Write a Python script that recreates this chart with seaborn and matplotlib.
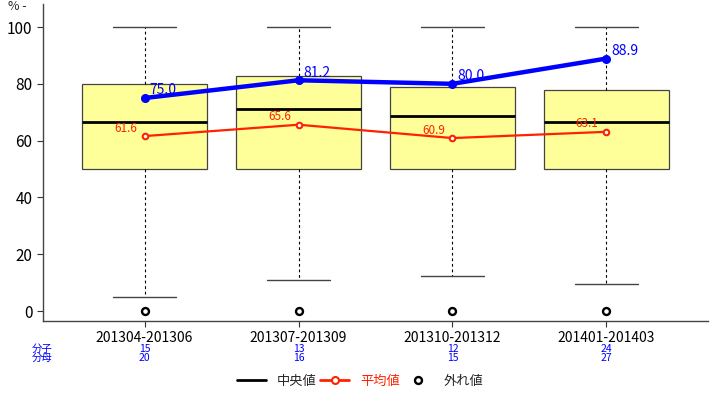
import numpy as np
import pandas as pd
import matplotlib
matplotlib.use("Agg")
import matplotlib.pyplot as plt
import seaborn as sns
from matplotlib.lines import Line2D

# ---- data ----
periods = ["201304-201306", "201307-201309", "201310-201312", "201401-201403"]
# per-period score samples (%), chosen to reproduce the drawn box summaries
scores_p1 = [0, 5.0, 50, 50, 66.7, 80.0, 80.0, 100, 100]
scores_p2 = [0, 11.1, 50, 50, 71.0, 82.6, 82.6, 100, 100]
scores_p3 = [0, 12.5, 50, 50, 68.6, 78.9, 78.9, 100, 100]
scores_p4 = [0, 9.5, 50, 50, 66.4, 77.8, 77.8, 100, 100]
mean_vals = [61.6, 65.6, 60.9, 63.1]
numerators = [15, 13, 12, 24]
denominators = [20, 16, 15, 27]
yticks = [0, 20, 40, 60, 80, 100]

ratio_vals = [n / d * 100 for n, d in zip(numerators, denominators)]

rows = []
for p, s in zip(periods, [scores_p1, scores_p2, scores_p3, scores_p4]):
    for v in s:
        rows.append({"period": p, "score": v})
df = pd.DataFrame(rows)

sns.set_style("white")
plt.rcParams['font.family'] = ['Noto Sans CJK JP', 'DejaVu Sans']

fig = plt.figure(figsize=(7.2, 3.94), dpi=100)
ax = fig.add_axes([43/720, 1 - 321/394, (708 - 43)/720, (321 - 4)/394])

sns.boxplot(data=df, x="period", y="score", order=periods, ax=ax,
            color="#FFFF99", saturation=1, width=0.81, linecolor="#444444",
            linewidth=0.9,
            medianprops=dict(color="black", linewidth=2),
            whiskerprops=dict(color="black", linewidth=0.8, linestyle=(0, (2.5, 2.5))),
            capprops=dict(color="#444444", linewidth=1),
            flierprops=dict(marker="o", markerfacecolor="white",
                            markeredgecolor="black", markersize=5,
                            markeredgewidth=1.7))

xs = np.arange(len(periods))
ax.plot(xs, mean_vals, color="#FF2200", lw=1.6, marker="o", ms=4,
        mfc="white", mec="#FF2200", mew=1.5, zorder=5)
for x, v in zip(xs, mean_vals):
    ax.text(x - 0.05, v + 0.5, f"{v:.1f}", color="#FF2200", fontsize=8.5,
            ha="right", va="bottom", zorder=6)

ax.plot(xs, ratio_vals, color="#0000FF", lw=3.2, marker="o", ms=5.5,
        zorder=7)
for x, v in zip(xs, ratio_vals):
    ax.text(x + 0.03, v + 0.2, f"{v:.1f}", color="#0000FF", fontsize=10,
            ha="left", va="bottom", zorder=8)

ax.set_xlim(-0.66, 3.66)
ax.set_ylim(-3.5, 108.1)
ax.set_yticks(yticks)
ax.set_xlabel("")
ax.set_ylabel("")
ax.tick_params(axis="both", which="both", length=4, width=0.8,
               colors="#333333", labelcolor="black", labelsize=10,
               direction="out", left=True, bottom=True)
ax.tick_params(axis="y", labelsize=11)
for side in ["top", "right"]:
    ax.spines[side].set_visible(False)
for side in ["left", "bottom"]:
    ax.spines[side].set_color("#444444")
    ax.spines[side].set_linewidth(1)

fig.text(8/720, 1 - 0.5/394, "% -", fontsize=9, va="top", ha="left")

# numerator / denominator rows
fig.text(42/720, 1 - 349/394, "分子", color="#0000FF", fontsize=7.5,
         ha="center", va="center")
fig.text(42/720, 1 - 358/394, "分母", color="#0000FF", fontsize=7.5,
         ha="center", va="center")
for x, n, d in zip(xs, numerators, denominators):
    xf = ax.transData.transform((x, 0))[0] / fig.bbox.width
    fig.text(xf, 1 - 349/394, str(n), color="#0000FF", fontsize=7.5,
             ha="center", va="center")
    fig.text(xf, 1 - 358/394, str(d), color="#0000FF", fontsize=7.5,
             ha="center", va="center")

handles = [
    Line2D([], [], color="black", lw=2),
    Line2D([], [], color="#FF2200", lw=2, marker="o", ms=5, mfc="white",
           mec="#FF2200", mew=1.5),
    Line2D([], [], color="black", lw=0, marker="o", ms=5, mfc="white",
           mec="black", mew=1.7),
]
leg = fig.legend(handles, ["中央値", "平均値", "外れ値"], ncol=3,
                 loc="center", bbox_to_anchor=(0.5, 1 - 381/394),
                 frameon=False, fontsize=9.5, handlelength=2.2,
                 columnspacing=0.3, handletextpad=0.8)
leg.get_texts()[1].set_color("#FF2200")

fig.savefig("out.png", dpi=100)
